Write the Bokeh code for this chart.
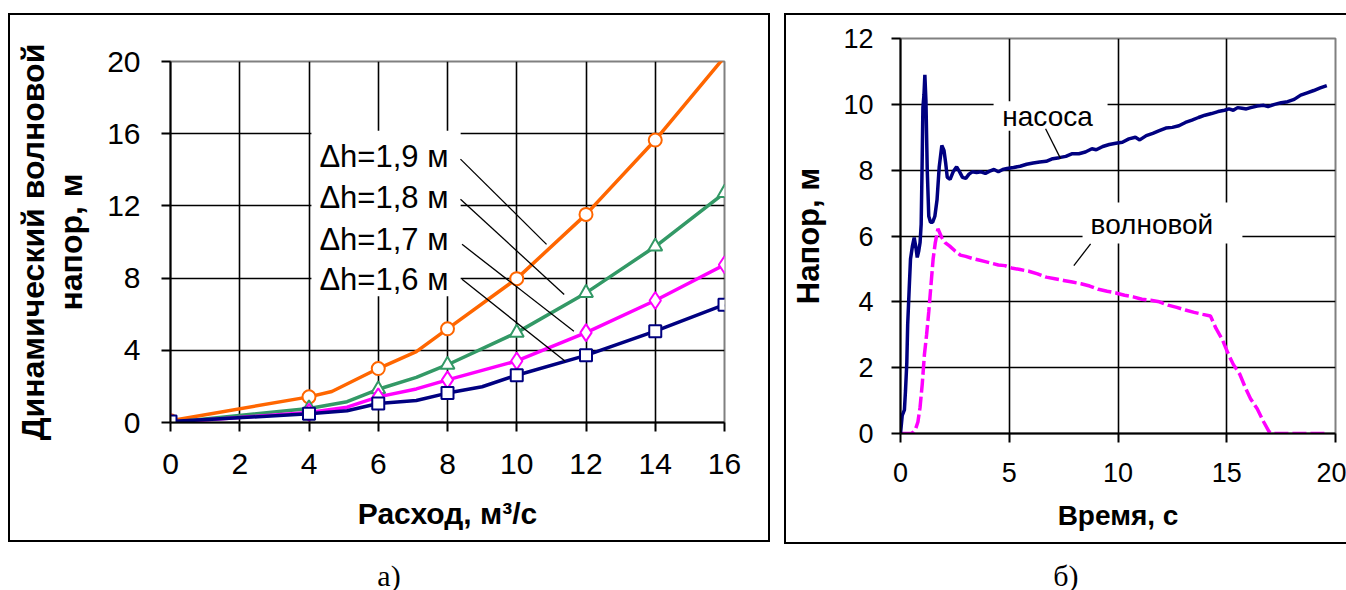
from bokeh.plotting import figure
from bokeh.layouts import row, column, Spacer
from bokeh.models import Range1d, FixedTicker, BoxAnnotation, Label, Div
from bokeh.embed import file_html
from bokeh.resources import INLINE

# ---------------- panel a: dynamic wave head vs discharge ----------------
Q_MARKED = [0, 4, 6, 8, 10, 12, 14, 16]          # tabulated discharges (markers)
Q_TICKS = [0, 2, 4, 6, 8, 10, 12, 14, 16]
H_TICKS = [0, 4, 8, 12, 16, 20]

q_19 = [0, 4, 4.66, 6, 7.1, 8, 10, 12, 14, 16]
h_19 = [0.1, 1.42, 1.72, 2.99, 3.93, 5.19, 7.97, 11.53, 15.65, 20.25]

q_18 = [0, 4, 5.1, 6, 7.1, 8, 10, 12, 14, 16]
h_18 = [0.0, 0.78, 1.15, 1.84, 2.5, 3.2, 4.98, 7.18, 9.75, 12.72]

q_17 = [0, 4, 5.1, 6, 7.1, 8, 10, 12, 14, 16]
h_17 = [0.0, 0.56, 0.85, 1.42, 1.86, 2.36, 3.41, 4.98, 6.76, 8.74]

q_16 = [0, 4, 5.1, 6, 7.1, 8, 9, 10, 12, 14, 16]
h_16 = [0.05, 0.48, 0.65, 1.05, 1.22, 1.63, 1.98, 2.62, 3.72, 5.06, 6.53]

series_a = [
    ("Δh=1,9 м", q_19, h_19, "#FF6600", "circle", 13),
    ("Δh=1,8 м", q_18, h_18, "#339966", "triangle", 14),
    ("Δh=1,7 м", q_17, h_17, "#FF00FF", "diamond", 17),
    ("Δh=1,6 м", q_16, h_16, "#000080", "square", 12),
]

# callout text anchors (left edge, baseline) and leader lines, data units
callout_x = 4.30
callout_y = [14.75, 12.47, 10.12, 7.90]
leaders_a = [
    ((8.375, 10.86), (14.59, 9.87)),
    ((8.375, 11.37), (12.37, 7.09)),
    ((8.42, 11.65), (9.87, 5.06)),
    ((8.42, 11.40), (7.93, 3.39)),
]

# ---------------- panel б: head vs time ----------------
T_TICKS = [0, 5, 10, 15, 20]
P_TICKS = [0, 2, 4, 6, 8, 10, 12]

t_pump = [0.0, 0.08, 0.18, 0.23, 0.29, 0.33, 0.40, 0.46, 0.55, 0.63, 0.72, 0.77,
          0.84, 0.90, 0.95, 0.99, 1.03, 1.08, 1.12, 1.17, 1.23, 1.30, 1.38, 1.48,
          1.58, 1.68, 1.78, 1.90, 2.00, 2.08, 2.15, 2.28, 2.42, 2.58, 2.70, 2.85,
          3.00, 3.15, 3.30, 3.50, 3.70, 3.90, 4.10, 4.30, 4.50, 4.70, 4.90, 5.20,
          5.50, 5.80, 6.10, 6.40, 6.70, 7.00, 7.30, 7.60, 7.90, 8.20, 8.50, 8.80,
          9.00, 9.30, 9.60, 9.90, 10.20, 10.50, 10.80, 11.00, 11.30, 11.60, 11.90,
          12.20, 12.50, 12.80, 13.10, 13.40, 13.70, 14.00, 14.30, 14.60, 14.90,
          15.10, 15.30, 15.50, 15.70, 15.90, 16.10, 16.40, 16.70, 16.90, 17.20,
          17.50, 17.80, 18.10, 18.40, 18.70, 19.00, 19.30, 19.60]
h_pump = [0.0, 0.55, 0.72, 1.30, 2.15, 3.30, 4.40, 5.30, 5.70, 5.95, 5.60, 5.35,
          5.55, 5.80, 6.35, 8.00, 9.90, 10.30, 10.90, 10.10, 8.00, 6.60, 6.42, 6.42,
          6.60, 7.10, 8.10, 8.75, 8.60, 8.20, 7.78, 7.72, 7.95, 8.10, 7.97, 7.78,
          7.75, 7.88, 7.95, 7.93, 7.95, 7.90, 7.97, 8.02, 7.95, 8.02, 8.05, 8.08,
          8.12, 8.18, 8.22, 8.25, 8.27, 8.35, 8.38, 8.42, 8.50, 8.50, 8.55, 8.65,
          8.62, 8.72, 8.78, 8.82, 8.85, 8.95, 9.00, 8.92, 9.05, 9.12, 9.20,
          9.28, 9.30, 9.35, 9.45, 9.52, 9.60, 9.67, 9.72, 9.78, 9.82,
          9.86, 9.82, 9.90, 9.88, 9.86, 9.90, 9.95, 9.97, 9.93, 10.00,
          10.05, 10.08, 10.15, 10.28, 10.35, 10.42, 10.50, 10.57]

t_wave = [0.0, 0.50, 0.60, 0.70, 0.80, 0.90, 1.00, 1.10, 1.20, 1.30, 1.40, 1.50,
          1.60, 1.72, 1.80, 1.90, 2.05, 2.25, 2.50, 2.75, 3.00, 3.30, 3.60, 3.90,
          4.20, 4.50, 4.80, 5.10, 5.50, 5.90, 6.30, 6.70, 7.10, 7.50, 7.90, 8.30,
          8.70, 9.10, 9.50, 9.90, 10.30, 10.70, 11.10, 11.50, 11.90, 12.30, 12.70,
          13.10, 13.50, 13.90, 14.25, 14.50, 14.80, 15.05, 15.30, 15.60, 15.85,
          16.10, 16.40, 16.70, 16.95, 17.10, 19.60]
h_wave = [0.0, 0.0, 0.05, 0.15, 0.35, 0.80, 1.50, 2.40, 3.00, 3.70, 4.50, 5.30,
          5.80, 6.22, 6.10, 5.95, 5.80, 5.70, 5.55, 5.42, 5.38, 5.32, 5.27, 5.22,
          5.17, 5.12, 5.10, 5.03, 4.98, 4.93, 4.85, 4.75, 4.70, 4.65, 4.60, 4.55,
          4.48, 4.38, 4.32, 4.27, 4.20, 4.15, 4.08, 4.05, 4.00, 3.90, 3.83,
          3.75, 3.68, 3.62, 3.57, 3.20, 2.85, 2.45, 2.10, 1.80, 1.40,
          1.05, 0.75, 0.35, 0.05, 0.0, 0.0]

FONT = "Liberation Sans"


def style_axes(p, x_ticks, y_ticks, x_grid, y_grid, tick_px, title_px):
    p.xaxis.ticker = FixedTicker(ticks=x_ticks)
    p.yaxis.ticker = FixedTicker(ticks=y_ticks)
    p.xgrid.ticker = FixedTicker(ticks=x_grid)
    p.ygrid.ticker = FixedTicker(ticks=y_grid)
    for g in (p.xgrid, p.ygrid):
        g.grid_line_color = "black"
        g.grid_line_width = 1.6
    for ax in (p.xaxis, p.yaxis):
        ax.axis_line_color = "black"
        ax.axis_line_width = 2
        ax.major_tick_line_color = "black"
        ax.major_tick_line_width = 2
        ax.major_tick_in = 0
        ax.major_tick_out = 9
        ax.minor_tick_line_color = None
        ax.major_label_text_font = FONT
        ax.major_label_text_font_size = tick_px
        ax.major_label_text_color = "black"
        ax.axis_label_text_font = FONT
        ax.axis_label_text_font_size = title_px
        ax.axis_label_text_font_style = "bold"
        ax.axis_label_text_color = "black"
    p.outline_line_color = "#808080"
    p.outline_line_width = 2
    p.background_fill_color = "white"
    p.border_fill_color = "white"


# ---------------- figure a ----------------
pa = figure(width=758, height=525, output_backend="svg", toolbar_location=None,
            x_range=Range1d(0, 16), y_range=Range1d(0, 20),
            min_border_left=160, min_border_right=44,
            min_border_top=46, min_border_bottom=118,
            styles={"box-shadow": "0 0 0 2px #000000"})
style_axes(pa, Q_TICKS, H_TICKS, Q_TICKS[1:-1], H_TICKS[1:-1], "30px", "30px")
pa.xaxis.axis_label = "Расход, м³/с"
pa.yaxis.axis_label = "Динамический волновой\nнапор, м"
pa.yaxis.axis_label_text_font_size = "32px"
pa.yaxis.axis_label_text_line_height = 1.05
pa.xaxis.major_label_standoff = 22
pa.yaxis.major_label_standoff = 21
pa.xaxis.axis_label_standoff = 20
pa.yaxis.axis_label_standoff = 15

pa.add_layout(BoxAnnotation(left=4.07, right=8.38, bottom=7.0, top=16.17,
                            fill_color="white", fill_alpha=1.0,
                            line_color=None, level="underlay"))

for name, q, h, color, marker, size in series_a:
    pa.line(q, h, line_color=color, line_width=3.5)
    mq = [x for x, y in zip(q, h) if x in Q_MARKED and y <= 20]
    mh = [y for x, y in zip(q, h) if x in Q_MARKED and y <= 20]
    pa.scatter(mq, mh, marker=marker, size=size, fill_color="white",
               line_color=color, line_width=2)

for (name, *_), y in zip(series_a, callout_y):
    pa.add_layout(Label(x=callout_x, y=y, text=name, text_font=FONT,
                        text_font_size="31px", text_color="black",
                        text_align="left", text_baseline="alphabetic"))

for xs, ys in leaders_a:
    pa.line(list(xs), list(ys), line_color="black", line_width=1.3)

# ---------------- figure б ----------------
pb = figure(width=560, height=527, output_backend="svg", toolbar_location=None,
            x_range=Range1d(0, 20), y_range=Range1d(0, 12),
            min_border_left=114, min_border_right=11,
            min_border_top=23, min_border_bottom=109,
            styles={"box-shadow": "0 0 0 2px #000000"})
style_axes(pb, T_TICKS, P_TICKS, T_TICKS[1:-1], P_TICKS[1:-1], "27px", "28px")
pb.xaxis.axis_label = "Время, с"
pb.yaxis.axis_label = "Напор, м"
pb.yaxis.axis_label_text_font_size = "31px"
pb.xaxis.major_label_standoff = 20
pb.yaxis.major_label_standoff = 18
pb.xaxis.axis_label_standoff = 15
pb.yaxis.axis_label_standoff = 14

pb.add_layout(BoxAnnotation(left=4.28, right=9.52, bottom=9.2, top=10.09,
                            fill_color="white", fill_alpha=1.0,
                            line_color=None, level="underlay"))
pb.add_layout(BoxAnnotation(left=8.37, right=15.72, bottom=5.77, top=7.02,
                            fill_color="white", fill_alpha=1.0,
                            line_color=None, level="underlay"))

pb.line(t_wave, h_wave, line_color="#FF00FF", line_width=3.5, line_dash="14 4")
pb.line(t_pump, h_pump, line_color="#000080", line_width=3.5)

pb.add_layout(Label(x=6.76, y=9.63, text="насоса", text_font=FONT,
                    text_font_size="28px", text_color="black",
                    text_align="center", text_baseline="alphabetic"))
pb.add_layout(Label(x=11.56, y=6.34, text="волновой", text_font=FONT,
                    text_font_size="28px", text_color="black",
                    text_align="center", text_baseline="alphabetic"))
pb.line([6.67, 7.36], [9.26, 8.35], line_color="black", line_width=1.3)
pb.line([8.74, 7.97], [5.76, 5.10], line_color="black", line_width=1.3)


# ---------------- captions ----------------
def caption(text, width, height, pad_top):
    return Div(text=text, width=width, height=height, margin=0,
               styles={"font-family": "'Liberation Serif', serif",
                       "font-size": "30px", "line-height": "30px",
                       "text-align": "center", "color": "black",
                       "padding-top": f"{pad_top}px", "box-sizing": "border-box"})


cap_a = caption("а)", 758, 50, 21)
cap_b = caption("б)", 560, 48, 19)

layout = column(
    Spacer(height=15),
    row(Spacer(width=10), column(pa, cap_a), Spacer(width=18), column(pb, cap_b)),
)

open("out.html", "w").write(file_html(layout, INLINE))
